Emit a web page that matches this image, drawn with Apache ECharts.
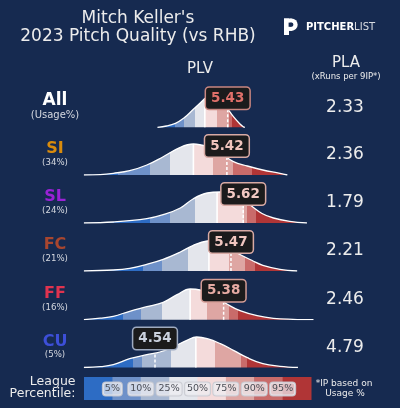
<!DOCTYPE html>
<html>
<head>
<meta charset="utf-8">
<script src="https://cdn.jsdelivr.net/npm/echarts@6/dist/echarts.min.js"></script>
<style>
  html, body { margin: 0; padding: 0; background: #162a50; }
  #chart { width: 400px; height: 408px; }
</style>
</head>
<body>
<div id="chart"></div>
<script>
// ── Data ────────────────────────────────────────────────────────────────
const pitchNames = ['All', 'SI', 'SL', 'FC', 'FF', 'CU'];
const usageLabels = ['(Usage%)', '(34%)', '(24%)', '(21%)', '(16%)', '(5%)'];
const plvValues = [5.43, 5.42, 5.62, 5.47, 5.38, 4.54];
const plaValues = ['2.33', '2.36', '1.79', '2.21', '2.46', '4.79'];
const pctLabels = ['5%', '10%', '25%', '50%', '75%', '90%', '95%'];

// density curves [PLV, density]
const allCurve = [[4.57, 0], [4.68, 1.3], [4.79, 4], [4.89, 9], [5.01, 18], [5.09, 24], [5.17, 30],
  [5.25, 32.5], [5.34, 27], [5.42, 19.5], [5.50, 10.6], [5.58, 3.3], [5.62, 0.6], [5.64, 0]];
const siCurve = [[3.67, 0], [3.87, 0.4], [4.03, 1.7], [4.23, 4.3], [4.44, 10], [4.64, 18.3], [4.85, 27.7],
  [5.01, 31], [5.18, 28.3], [5.34, 22], [5.50, 13.3], [5.67, 9], [5.86, 5], [6.07, 1.7], [6.16, 0]];
const slCurve = [[3.67, 0], [4.03, 1], [4.44, 4.3], [4.64, 8.3], [4.85, 15], [5.01, 24.3], [5.18, 30],
  [5.34, 31], [5.50, 28.3], [5.67, 20], [5.85, 9.5], [5.99, 5], [6.19, 1.7], [6.40, 0]];
const fcCurve = [[3.67, 0], [4.03, 1], [4.23, 2.7], [4.44, 6.7], [4.64, 11.7], [4.85, 19], [5.01, 25.7],
  [5.18, 30], [5.25, 30.3], [5.34, 28.3], [5.50, 20], [5.74, 10], [5.86, 5.7], [6.07, 1.7], [6.28, 0]];
const ffCurve = [[3.67, 0], [3.87, 1.5], [4.03, 3.4], [4.23, 8.4], [4.44, 13], [4.64, 17.4], [4.81, 25],
  [4.97, 30.7], [5.09, 29.7], [5.25, 24], [5.42, 15.7], [5.58, 9], [5.79, 4], [5.99, 1.4], [6.23, 0.4], [6.48, 0]];
const cuCurve = [[3.67, 0], [3.87, 0.8], [4.03, 2.8], [4.23, 8.8], [4.44, 12.8], [4.60, 15.5], [4.76, 20.5],
  [4.93, 27.2], [5.05, 30.5], [5.18, 28.8], [5.34, 23.8], [5.50, 17.2], [5.67, 9.8], [5.86, 3.8], [6.07, 1.2], [6.29, 0]];

// league percentile cut points (5, 10, 25, 50, 75, 90, 95)
const allPct = [4.79, 4.89, 5.03, 5.15, 5.30, 5.44, 5.48];
const siPct  = [4.09, 4.48, 4.72, 5.01, 5.25, 5.50, 5.73];
const slPct  = [4.48, 4.72, 5.03, 5.30, 5.63, 5.67, 5.78];
const fcPct  = [4.39, 4.62, 4.95, 5.20, 5.44, 5.64, 5.77];
const ffPct  = [4.15, 4.37, 4.63, 4.97, 5.18, 5.44, 5.56];
const cuPct  = [4.27, 4.38, 4.74, 5.04, 5.27, 5.59, 5.66];

// curve height at the median and at the pitcher's value
const medianHeights = [28.5, 31, 31, 30.3, 30.5, 30];
const valueHeights  = [18, 19, 23, 21, 17, 14.5];

const curves = [allCurve, siCurve, slCurve, fcCurve, ffCurve, cuCurve];
const pcts   = [allPct, siPct, slPct, fcPct, ffPct, cuPct];

// ── Look ───────────────────────────────────────────────────────────────
const FONT = 'DejaVu Sans';
const BG = '#162a50';
const TEXT = '#ececec';
const BAND_COLORS = ['#2d6cc4', '#6e91c9', '#a8b8d2', '#e4e6ec', '#f4dbdb', '#dea6a3', '#c96b6a', '#b03536'];
const PITCH_COLORS = ['#ffffff', '#d98b0c', '#9a22d6', '#a8462f', '#e0334f', '#3d4fd8'];
const BOX_TEXT   = ['#e0706a', '#f0c4bd', '#f2c9c3', '#f0c6bf', '#e6aba3', '#cbd2df'];
const BOX_BORDER = ['#c98680', '#d8aaa4', '#d8aaa4', '#d8aaa4', '#d49d96', '#9eaac0'];

const BASELINES = [127.3, 175, 223, 271, 319.7, 367.5];
const PLOT_LEFT = 78.2, PLOT_WIDTH = 245.1, ROW_H = 40;
const LABEL_LIFT = 29;

const grids = [], xAxes = [], yAxes = [], series = [], visualMaps = [];

curves.forEach((curve, i) => {
  grids.push({ left: PLOT_LEFT, width: PLOT_WIDTH, top: BASELINES[i] - ROW_H, height: ROW_H });
  xAxes.push({ type: 'value', gridIndex: i, min: 3.6, max: 6.6, show: false });
  yAxes.push({ type: 'value', gridIndex: i, min: 0, max: ROW_H, show: false });

  // one colour band per league percentile bucket
  const p = pcts[i];
  const pieces = [{ lt: p[0], color: BAND_COLORS[0] }];
  for (let k = 1; k < p.length; k++) pieces.push({ gte: p[k - 1], lt: p[k], color: BAND_COLORS[k] });
  pieces.push({ gte: p[p.length - 1], color: BAND_COLORS[7] });
  visualMaps.push({ type: 'piecewise', show: false, dimension: 0, seriesIndex: series.length, pieces });

  series.push({
    type: 'line', xAxisIndex: i, yAxisIndex: i, data: curve, smooth: 0.4,
    showSymbol: false, silent: true, z: 2,
    lineStyle: { color: '#ffffff', width: 1.3 },
    areaStyle: { opacity: 1 },
  });
  // league median
  series.push({
    type: 'line', xAxisIndex: i, yAxisIndex: i, showSymbol: false, silent: true, z: 3,
    data: [[p[3], 0], [p[3], medianHeights[i]]],
    lineStyle: { color: '#ffffff', width: 1.6 },
  });
  // pitcher's PLV
  series.push({
    type: 'line', xAxisIndex: i, yAxisIndex: i, showSymbol: false, silent: true, z: 3,
    data: [[plvValues[i], 0], [plvValues[i], valueHeights[i]]],
    lineStyle: { color: '#ffffff', width: 1.5, type: [3, 2] },
  });
  series.push({
    type: 'scatter', xAxisIndex: i, yAxisIndex: i, silent: true, z: 6,
    symbolSize: 1, itemStyle: { color: 'transparent', opacity: 1 },
    data: [[plvValues[i], LABEL_LIFT]],
    label: {
      show: true, position: 'inside', opacity: 1,
      formatter: () => plvValues[i].toFixed(2),
      fontFamily: FONT, fontSize: 13.5, fontWeight: 'bold', color: BOX_TEXT[i],
      textBorderWidth: 0,
      backgroundColor: '#1b1b1c', borderColor: BOX_BORDER[i], borderWidth: 1.5,
      borderRadius: 3, padding: [4, 5, 3, 5],
    },
  });
});

// ── Text & decorations ────────────────────────────────────────────────
function txt(text, x, y, size, opts = {}) {
  return {
    type: 'text', silent: true, z: 10,
    style: {
      text, x, y, fill: opts.color || TEXT,
      font: `${opts.weight || 'normal'} ${size}px "${FONT}"`,
      align: opts.align || 'center', verticalAlign: 'middle',
    },
  };
}
function shape(type, s, fill) {
  return { type, silent: true, z: 10, shape: s, style: { fill } };
}

const graphics = [
  txt("Mitch Keller's", 138, 18.5, 17),
  txt('2023 Pitch Quality (vs RHB)', 138, 37, 17),
  txt('PLV', 200, 69.5, 15),
  txt('PLA', 346, 63.5, 15),
  txt('(xRuns per 9IP*)', 346, 76.5, 8.5),
  // logo mark
  shape('circle', { cx: 291.5, cy: 24.7, r: 6.2 }, '#ffffff'),
  shape('rect', { x: 284, y: 18.5, width: 7.5, height: 12.4 }, '#ffffff'),
  shape('rect', { x: 284, y: 18.5, width: 5, height: 16.5 }, '#ffffff'),
  shape('rect', { x: 288.6, y: 22.6, width: 2.8, height: 4.2 }, BG),
  shape('circle', { cx: 291.3, cy: 24.7, r: 2.1 }, BG),
  {
    type: 'text', silent: true, z: 10,
    style: {
      text: '{b|PITCHER}{r|LIST}', x: 306, y: 27, align: 'left', verticalAlign: 'middle',
      rich: {
        b: { fontFamily: FONT, fontSize: 10, fontWeight: 'bold', fill: '#ffffff' },
        r: { fontFamily: FONT, fontSize: 10, fill: '#d8dbe2' },
      },
    },
  },
];

pitchNames.forEach((name, i) => {
  const b = BASELINES[i];
  const big = i === 0;
  graphics.push(txt(name, 55, b - (big ? 26.5 : 25.7), big ? 17 : 16, { weight: 'bold', color: PITCH_COLORS[i] }));
  graphics.push(txt(usageLabels[i], 55, b - 12.3, big ? 10 : 8.6, { color: '#d6d9e0' }));
  graphics.push(txt(plaValues[i], 345, b - 20, 17));
});

// league percentile legend bar
const LEG_X = 84, LEG_Y = 377, LEG_W = 227, LEG_H = 23;
const segW = LEG_W / BAND_COLORS.length;
BAND_COLORS.forEach((c, k) => {
  graphics.push({
    type: 'rect', silent: true, z: 8,
    shape: { x: LEG_X + k * segW, y: LEG_Y, width: segW + 0.5, height: LEG_H },
    style: { fill: c },
  });
});
pctLabels.forEach((lab, k) => {
  graphics.push({
    type: 'text', silent: true, z: 9,
    style: {
      text: lab, x: LEG_X + (k + 1) * segW, y: LEG_Y + LEG_H / 2 + 0.5,
      align: 'center', verticalAlign: 'middle',
      font: `9.5px "${FONT}"`, fill: '#4a4d55',
      backgroundColor: 'rgba(238,239,243,0.72)', borderColor: 'rgba(200,202,210,0.9)',
      borderWidth: 1, borderRadius: 3, padding: [2, 2, 1, 2],
    },
  });
});
graphics.push(txt('League', 75.5, 381.5, 12.5, { align: 'right' }));
graphics.push(txt('Percentile:', 75.5, 394, 12.5, { align: 'right' }));
graphics.push(txt('*IP based on', 344, 384, 9));
graphics.push(txt('Usage %', 345, 394, 9));

const chart = echarts.init(document.getElementById('chart'), null, { renderer: 'canvas' });
chart.setOption({
  backgroundColor: BG,
  animation: false,
  grid: grids,
  xAxis: xAxes,
  yAxis: yAxes,
  visualMap: visualMaps,
  series,
  graphic: graphics,
});
</script>
</body>
</html>
